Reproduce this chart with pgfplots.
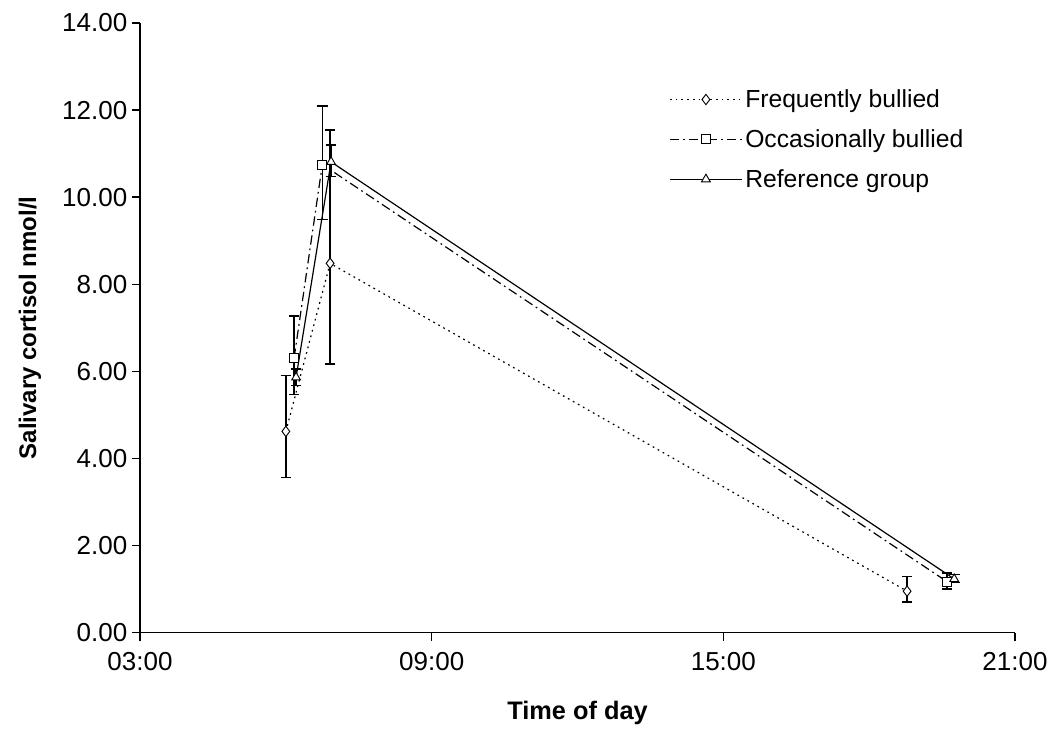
\documentclass[border=0pt]{standalone}
\usepackage{fontspec}
\setmainfont{Liberation Sans}
\usepackage{pgfplots}
\pgfplotsset{compat=1.18}

\begin{document}
\begin{tikzpicture}
\begin{axis}[
    scale only axis,
    width=656pt, height=457pt,
    xmin=3, xmax=21, ymin=0, ymax=14,
    axis lines*=left,
    axis line style={line width=1.3pt},
    tick align=outside,
    major tick length=6pt,
    tick style={line width=1pt, black},
    xtick={3,9,15,21},
    xticklabels={03:00,09:00,15:00,21:00},
    ytick={0,2,...,14},
    yticklabel={\pgfmathprintnumber[fixed,fixed zerofill,precision=2]{\tick}},
    /pgf/number format/assume math mode=true,
    tick label style={font=\fontsize{19.5}{22}\selectfont},
    xticklabel style={yshift=-5pt},
    xlabel={\textbf{Time of day}},
    ylabel={\textbf{Salivary cortisol nmol/l}},
    label style={font=\fontsize{18}{21}\selectfont},
    xlabel style={yshift=-16pt, font=\fontsize{19}{22}\selectfont},
    ylabel style={yshift=9pt},
    legend style={at={(0.6,0.9)}, anchor=north west, draw=none, fill=none,
        font=\fontsize{18.5}{21}\selectfont, row sep=11pt},
    legend cell align=left,
    legend image code/.code={
        \draw[mark repeat=2,mark phase=2] plot coordinates {(0cm,0cm) (0.95cm,0cm) (1.9cm,0cm)};
    },
    error bars/y dir=both,
    error bars/y explicit,
    error bars/error bar style={line width=1pt, solid},
    error bars/error mark options={rotate=90, mark size=4pt, line width=1pt, solid},
]
% Frequently bullied
\addplot[black, line width=0.9pt, dash pattern=on 1.3pt off 3pt,
    mark=diamond*, mark size=3.9pt, mark options={fill=white, solid, line width=0.7pt}]
    coordinates {
    (6.00, 4.62) += (0,1.29) -= (0,1.06)
    (6.91, 8.48) += (0,3.06) -= (0,2.31)
    (18.78, 0.95) += (0,0.34) -= (0,0.25)
};
\addlegendentry{Frequently bullied}
% Occasionally bullied
\addplot[black, line width=0.9pt, dash pattern=on 7pt off 3pt on 1.3pt off 3pt,
    mark=square*, mark size=3.4pt, mark options={fill=white, solid, line width=0.7pt}]
    coordinates {
    (6.17, 6.31) += (0,0.96) -= (0,0.85)
    (6.75, 10.75) += (0,1.34) -= (0,1.26)
    (19.60, 1.17) += (0,0.20) -= (0,0.17)
};
\addlegendentry{Occasionally bullied}
% Reference group
\addplot[black, line width=0.9pt, solid,
    mark=triangle*, mark size=3.8pt, mark options={fill=white, solid, line width=0.7pt}]
    coordinates {
    (6.21, 5.86) += (0,0.19) -= (0,0.18)
    (6.93, 10.81) += (0,0.39) -= (0,0.34)
    (19.75, 1.23) += (0,0.10) -= (0,0.08)
};
\addlegendentry{Reference group}
\end{axis}
\path (current axis.south west) ++(-105pt,-72.75pt) coordinate (bbA);
\path (current axis.north east) ++(26.25pt,17.25pt) coordinate (bbB);
\pgfresetboundingbox
\path[use as bounding box] (bbA) rectangle (bbB);
\end{tikzpicture}
\end{document}
